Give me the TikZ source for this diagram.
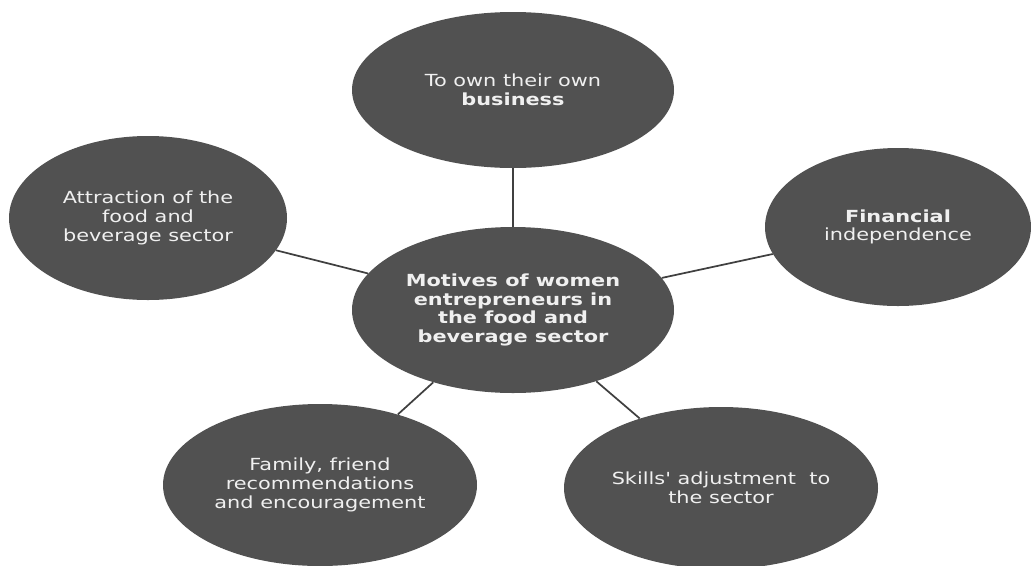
\documentclass[tikz,border=0pt]{standalone}
\usepackage{xcolor}
\usepackage{fontspec}
\usepackage{tikz}
\newfontfamily\bubblefont[FakeStretch=1.25]{DejaVu Sans}
\definecolor{bubblegray}{RGB}{81,81,81}
\definecolor{spokegray}{RGB}{64,64,64}
\tikzstyle{bubble} = [ellipse, fill=bubblegray, draw=none, inner sep=0pt,
  text=white!94!black, align=center,
  font=\bubblefont\fontsize{12.5pt}{14pt}\selectfont]
\tikzstyle{spoke} = [draw, line width=1.3pt, spokegray, -]
\usetikzlibrary{shapes.geometric}

\begin{document}
\begin{tikzpicture}[x=0.75pt, y=-0.75pt]
\useasboundingbox (0,0) rectangle (1031,565);

% Nodes
\node[bubble, minimum width=241.5pt, minimum height=124.5pt] (M) at (513,310)
  {\textbf{Motives of women}\\\textbf{entrepreneurs in}\\\textbf{the food and}\\\textbf{beverage sector}};
\node[bubble, minimum width=241.5pt, minimum height=117pt] (O) at (513,90)
  {To own their own\\\textbf{business}};
\node[bubble, minimum width=199.5pt, minimum height=118.5pt] (F) at (898,227)
  {\textbf{Financial}\\independence};
\node[bubble, minimum width=235.5pt, minimum height=121.5pt] (S) at (721,488)
  {Skills' adjustment\ \ to\\the sector};
\node[bubble, minimum width=235.5pt, minimum height=121.5pt] (R) at (320,485)
  {Family, friend\\recommendations\\and encouragement};
\node[bubble, minimum width=208.5pt, minimum height=123pt] (A) at (148,218)
  {Attraction of the\\food and\\beverage sector};

% Spokes
\draw[spoke] (M) -- (O);
\draw[spoke] (M) -- (F);
\draw[spoke] (M) -- (S);
\draw[spoke] (M) -- (R);
\draw[spoke] (M) -- (A);

\end{tikzpicture}
\end{document}
